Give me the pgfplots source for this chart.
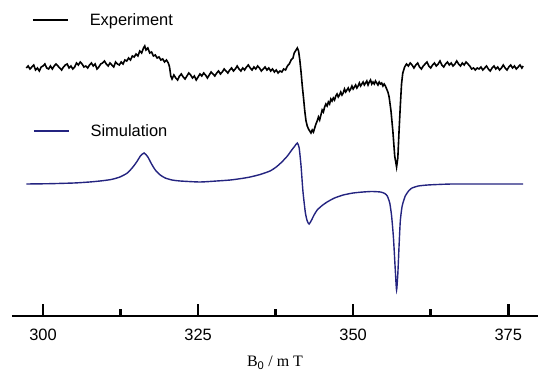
\documentclass[border=0pt]{standalone}
\usepackage{pgfplots}
\pgfplotsset{compat=1.18}
\usepackage{fontspec}
\setmainfont{Liberation Sans}
\newfontfamily\seriffont{Liberation Serif}
\definecolor{simblue}{RGB}{36,36,128}

\pgfplotsset{
  base/.style={
    at={(0,0)}, anchor=south west,
    scale only axis, width=526bp, height=316bp,
    xmin=295, xmax=379.8, ymin=0, ymax=316,
    clip=false,
    legend cell align=left,
    legend style={draw=none, fill=none, inner sep=0pt, anchor=west,
      font=\fontsize{16.5}{19}\selectfont,
      nodes={inner sep=0pt},
      /tikz/every odd column/.append style={column sep=21bp}},
    legend image code/.code={\draw[##1] (0bp,0bp) -- (35bp,0bp);},
  }
}

\begin{document}
\begin{tikzpicture}
\useasboundingbox (-12bp,-58bp) rectangle (526bp,316bp);
% Experiment axis (with x axis)
\begin{axis}[base,
  axis x line*=bottom, axis y line=none,
  xtick={300,325,350,375}, minor xtick={312.5,337.5,362.5},
  tick align=inside,
  major tick length=12bp, minor tick length=7bp,
  tick style={line width=2.6bp, black},
  major tick style={line width=2.6bp, black},
  minor tick style={line width=2.6bp, black},
  x axis line style={line width=2.8bp, black},
  /pgf/number format/assume math mode=true,
  xticklabel style={font=\fontsize{16.5}{19}\selectfont, yshift=-10bp},
  xlabel={\seriffont B$_{\mathrm{0}}$ / m T},
  xlabel style={font=\fontsize{16}{19}\selectfont, at={(axis description cs:0.5,0)}, anchor=center, yshift=-47bp},
  legend style={at={(axis description cs:0.038,0.937)}},
]
\addplot[black, line width=1.6bp] coordinates {
(297.3,248) (297.6,250) (297.9,247) (298.2,249) (298.5,251) (298.8,246) (299.1,248) (299.4,245)
(299.7,249) (300.0,250) (300.3,252) (300.6,248) (300.9,247) (301.2,250) (301.5,247) (301.8,250)
(302.1,252) (302.4,250) (302.7,248) (303.0,246) (303.3,249) (303.6,251) (303.9,252) (304.2,248)
(304.5,250) (304.8,247) (305.1,249) (305.4,253) (305.7,251) (306.0,254) (306.3,252) (306.6,249)
(306.9,250) (307.2,248) (307.5,251) (307.8,253) (308.1,250) (308.4,252) (308.7,247) (309.0,249)
(309.3,252) (309.6,253) (309.9,255) (310.2,252) (310.5,250) (310.8,253) (311.1,251) (311.4,249)
(311.7,254) (312.0,252) (312.3,251) (312.6,254) (312.9,252) (313.2,256)
(313.5,255) (313.8,258) (314.1,256) (314.4,260) (314.7,259) (315.0,262) (315.3,260) (315.6,265)
(315.9,263) (316.2,268) (316.4,270) (316.6,266) (316.9,268) (317.2,263) (317.5,264) (317.8,260)
(318.1,261) (318.4,258) (318.7,259) (319.0,256) (319.3,257) (319.6,254) (319.9,256) (320.2,253)
(320.4,249) (320.6,240) (320.8,237)
(321.1,241) (321.4,238) (321.7,236) (322.0,240) (322.3,242) (322.6,239) (322.9,237) (323.2,240)
(323.5,243) (323.8,241) (324.1,238) (324.4,240) (324.7,236) (325.0,239) (325.3,242) (325.6,240)
(325.9,243) (326.2,241) (326.5,238) (326.8,241) (327.1,244) (327.4,242) (327.7,240) (328.0,243)
(328.3,245) (328.6,242) (328.9,244) (329.2,247) (329.5,245) (329.8,243) (330.1,246) (330.4,248)
(330.7,245) (331.0,247) (331.3,250) (331.6,247) (331.9,245) (332.2,248) (332.5,246) (332.8,249)
(333.1,251) (333.4,248) (333.7,246) (334.0,249) (334.3,247) (334.6,250) (334.9,248) (335.2,245)
(335.5,247) (335.8,249) (336.1,246) (336.4,248) (336.7,245) (337.0,247) (337.3,244) (337.6,246)
(337.9,243) (338.2,245) (338.5,244) (338.8,247) (339.1,246) (339.4,250) (339.7,252) (340.0,256)
(340.3,258) (340.5,263) (340.8,266) (341.0,268) (341.2,265) (341.4,256) (341.6,244) (341.8,230)
(342.0,218) (342.2,205) (342.4,195)
(342.6,190) (342.8,187) (343.0,185) (343.2,183) (343.4,186) (343.6,184) (343.8,188) (344.0,192)
(344.2,195) (344.4,199) (344.6,196) (344.8,201) (345.0,206) (345.2,204) (345.4,209) (345.6,212)
(345.8,210) (346.0,214) (346.2,212) (346.4,217) (346.6,215) (346.8,218) (347.0,216) (347.2,220)
(347.4,222) (347.6,219) (347.8,221) (348.0,224) (348.2,221) (348.4,223) (348.6,227) (348.8,224)
(349.0,226) (349.2,228) (349.4,225) (349.6,227) (349.8,230) (350.0,227) (350.2,229) (350.4,231)
(350.6,228) (350.8,230) (351.0,233) (351.2,230) (351.4,232) (351.6,234) (351.8,231) (352.0,233)
(352.2,235) (352.4,231) (352.6,234) (352.8,236) (353.0,232) (353.2,234) (353.4,232) (353.6,235)
(353.8,233) (354.0,231) (354.2,234) (354.4,232) (354.6,233) (354.8,230) (355.0,232) (355.2,230)
(355.4,227) (355.6,224) (355.8,219) (356.1,205) (356.4,185) (356.7,160) (357.0,149) (357.2,158)
(357.4,185) (357.6,210) (357.8,232) (358.0,243)
(358.3,249) (358.6,252) (358.9,250) (359.2,253) (359.5,251) (359.8,248) (360.1,251) (360.4,253)
(360.7,249) (361.0,247) (361.3,250) (361.6,252) (361.9,254) (362.2,250) (362.5,248) (362.8,251)
(363.1,253) (363.4,250) (363.7,252) (364.0,255) (364.3,251) (364.6,249) (364.9,252) (365.2,254)
(365.5,251) (365.8,253) (366.1,250) (366.4,252) (366.7,255) (367.0,252) (367.3,250) (367.6,253)
(367.9,251) (368.2,254) (368.5,252) (368.8,250) (369.1,247) (369.4,248) (369.7,246) (370.0,248)
(370.3,247) (370.6,249) (370.9,246) (371.2,248) (371.5,250) (371.8,247) (372.1,245) (372.4,248)
(372.7,250) (373.0,247) (373.3,249) (373.6,246) (373.9,248) (374.2,251) (374.5,248) (374.8,246)
(375.1,249) (375.4,251) (375.7,248) (376.0,250) (376.3,247) (376.6,249) (376.9,251) (377.2,248)
(377.4,250)
};
\addlegendentry{Experiment}
\end{axis}
% Simulation axis
\begin{axis}[base, hide axis,
  legend style={at={(axis description cs:0.040,0.585)}},
]
\addplot[simblue, line width=1.4bp, smooth, tension=0.35] coordinates {
(297.3,132) (301,132.3) (305,133) (307.5,134) (309.2,135) (311,136.5) (312.4,139) (313.6,143)
(314.5,149) (315.2,155) (315.7,160) (316.3,163) (316.9,159) (317.5,152) (318.1,146) (318.9,141)
(319.7,138) (320.8,136) (322.1,135) (325.3,134) (328,135) (330.2,136) (332,137.5) (333.4,139)
(335,141.5) (336.6,145) (337.6,149) (338.5,154) (339.4,160) (340.1,166) (340.6,170) (341.0,173)
(341.3,168) (341.6,150) (341.9,125) (342.3,103) (342.6,95) (342.9,92) (343.3,96) (343.7,101)
(344.2,106) (345.0,110.5) (345.8,114) (347.0,118) (348.4,121) (350.0,123) (351.6,124) (353.0,124.5)
(354.4,124) (355.1,122.5) (355.5,120) (355.9,113) (356.2,100) (356.5,78) (356.8,45) (357.0,26)
(357.2,42) (357.4,70) (357.6,95) (357.9,110) (358.4,120) (359.0,125.5) (359.5,128) (360.5,130)
(362,131) (364,131.6) (366,132) (370,132) (374,132) (377.4,132)
};
\addlegendentry{Simulation}
\end{axis}
\end{tikzpicture}
\end{document}
